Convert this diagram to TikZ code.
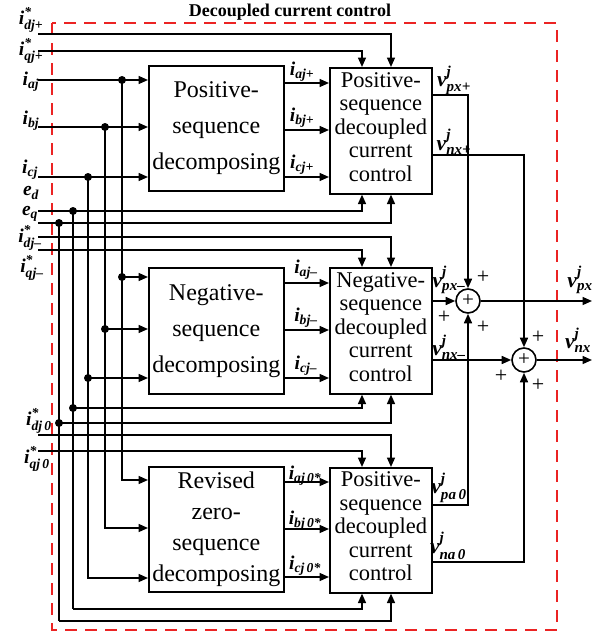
\documentclass[tikz,border=0pt]{standalone}
\usepackage{fontspec}
\usepackage{amsmath}
\setmainfont{Liberation Serif}
\usetikzlibrary{arrows.meta,calc}
\definecolor{rd}{RGB}{235,35,35}
\newcommand{\sgs}[3]{$\text{\bfseries\itshape #1}^{\text{\bfseries\itshape #2}}_{\text{\bfseries\itshape #3}}$}
\newcommand{\sgn}[2]{$\text{\bfseries\itshape #1}_{\text{\bfseries\itshape #2}}$}
\begin{document}
\begin{tikzpicture}[x=1pt,y=-1pt,
  wire/.style={line width=1.6pt},
  arr/.style={wire,-{Triangle[length=9.5pt,width=8pt]}},
  blk/.style={draw,line width=1.6pt,anchor=north west,inner sep=0pt,align=center},
  dec/.style={blk,minimum width=135pt,font=\fontsize{24}{36}\selectfont},
  ctl/.style={blk,minimum width=102pt},
  ctltxt/.style={inner sep=0pt,align=center,font=\fontsize{22.5}{23.5}\selectfont},
  jdot/.style={circle,fill,inner sep=0pt,minimum size=8pt},
  lbl/.style={inner sep=0pt,font=\fontsize{19.5}{19.5}\selectfont},
  vlbl/.style={inner sep=0pt,font=\fontsize{21.5}{21.5}\selectfont},
  pls/.style={inner sep=0pt,font=\fontsize{22}{22}\selectfont},
  sumnode/.style={circle,draw,line width=1.6pt,minimum size=24pt,inner sep=0pt,font=\fontsize{21}{21}\selectfont},
]
\useasboundingbox (0,0) rectangle (602,635);

% frame
\draw[rd,line width=1.8pt,dash pattern=on 12pt off 8pt] (52,23) rectangle (557,630);
\node[font=\bfseries\fontsize{18}{18}\selectfont,inner sep=0pt] (title) at (290,12) {Decoupled current control};

% blocks
\node[dec,minimum height=125pt] (pd) at (148,65) {Positive-\\sequence\\decomposing};
\node[dec,minimum height=126pt] (nd) at (148,267) {Negative-\\sequence\\decomposing};
\node[dec,minimum height=125pt,font=\fontsize{24}{31}\selectfont] (zd) at (148,466) {Revised\\zero-\\sequence\\decomposing};
\node[ctl,minimum height=126pt] (pc) at (329,67) {};
\node[ctl,minimum height=126pt] (nc) at (329,267) {};
\node[ctl,minimum height=125pt] (zc) at (329,467) {};
\node[ctltxt] (pct) at ([yshift=4pt]pc.center) {Positive-\\sequence\\decoupled\\current\\control};
\node[ctltxt] (nct) at ([yshift=4pt]nc.center) {Negative-\\sequence\\decoupled\\current\\control};
\node[ctltxt] (zct) at ([yshift=4pt]zc.center) {Positive-\\sequence\\decoupled\\current\\control};

% sums
\node[sumnode] (s1) at (468,301) {+};
\node[sumnode] (s2) at (524,360) {+};

% input starts
\coordinate (idp) at (38,34);
\coordinate (iqp) at (38,51);
\coordinate (ia) at (38,80);
\coordinate (ib) at (38,127);
\coordinate (ic) at (38,177);
\coordinate (ed) at (38,211);
\coordinate (eq) at (38,223);
\coordinate (idn) at (38,237);
\coordinate (iqn) at (38,250);
\coordinate (id0) at (38,435);
\coordinate (iq0) at (38,451);
\coordinate (cA) at (362,0);
\coordinate (cB) at (391,0);

% junctions
\node[jdot] (ja1) at (122,80) {};
\node[jdot] (ja2) at (122,277) {};
\coordinate (ja3) at (122,480);
\node[jdot] (jb1) at (105,127) {};
\node[jdot] (jb2) at (105,329) {};
\coordinate (jb3) at (105,528);
\node[jdot] (jc1) at (88,177) {};
\node[jdot] (jc2) at (88,378) {};
\coordinate (jc3) at (88,578);
\node[jdot] (jd1) at (73,211) {};
\node[jdot] (jd2) at (73,408) {};
\coordinate (jd3) at (73,609);
\node[jdot] (jq1) at (59,223) {};
\node[jdot] (jq2) at (59,423) {};
\coordinate (jq3) at (59,621);

% phase currents
\draw[arr] (ia) -- (ia -| pd.west);
\draw[arr] (ib) -- (ib -| pd.west);
\draw[arr] (ic) -- (ic -| pd.west);
\draw[arr] (ja1.center) -- (ja3) -- (ja3 -| zd.west);
\draw[arr] (jb1.center) -- (jb3) -- (jb3 -| zd.west);
\draw[arr] (jc1.center) -- (jc3) -- (jc3 -| zd.west);
\draw[arr] (ja2.center) -- (ja2 -| nd.west);
\draw[arr] (jb2.center) -- (jb2 -| nd.west);
\draw[arr] (jc2.center) -- (jc2 -| nd.west);

% voltages e
\draw[arr] (ed) -| (cA |- pc.south);
\draw[arr] (eq) -| (cB |- pc.south);
\draw[wire] (jd1.center) -- (jd3);
\draw[wire] (jq1.center) -- (jq3);
\draw[arr] (jd2.center) -| (cA |- nc.south);
\draw[arr] (jq2.center) -| (cB |- nc.south);
\draw[arr] (jd3) -| (cA |- zc.south);
\draw[arr] (jq3) -| (cB |- zc.south);

% references
\draw[arr] (idp) -| (cB |- pc.north);
\draw[arr] (iqp) -| (cA |- pc.north);
\draw[arr] (idn) -| (cB |- nc.north);
\draw[arr] (iqn) -| (cA |- nc.north);
\draw[arr] (id0) -| (cB |- zc.north);
\draw[arr] (iq0) -| (cA |- zc.north);

% decomposed currents
\draw[arr] (pd.east |- 0,83) -- (pc.west |- 0,83);
\draw[arr] (pd.east |- 0,130) -- (pc.west |- 0,130);
\draw[arr] (pd.east |- 0,177) -- (pc.west |- 0,177);
\draw[arr] (nd.east |- 0,283) -- (nc.west |- 0,283);
\draw[arr] (nd.east |- 0,330) -- (nc.west |- 0,330);
\draw[arr] (nd.east |- 0,378) -- (nc.west |- 0,378);
\draw[arr] (zd.east |- 0,482) -- (zc.west |- 0,482);
\draw[arr] (zd.east |- 0,529) -- (zc.west |- 0,529);
\draw[arr] (zd.east |- 0,577) -- (zc.west |- 0,577);

% outputs
\coordinate (o1) at (592,301);
\coordinate (o2) at (592,360);
\draw[arr] (pc.east |- 0,95) -| (s1.north);
\draw[arr] (pc.east |- 0,155) -| (s2.north);
\draw[arr] (nc.east |- s1) -- (s1.west);
\draw[arr] (nc.east |- s2) -- (s2.west);
\draw[arr] (zc.east |- 0,505) -| (s1.south);
\draw[arr] (zc.east |- 0,562) -| (s2.south);
\draw[arr] (s1.east) -- (o1);
\draw[arr] (s2.east) -- (o2);

% plus signs
\node[pls] (p11) at (483,277) {+};
\node[pls] (p12) at (444,317) {+};
\node[pls] (p13) at (483,327) {+};
\node[pls] (p21) at (538,337) {+};
\node[pls] (p22) at (501,376) {+};
\node[pls] (p23) at (538,385) {+};

% input labels
\node[lbl] (Lidp) at (31,20) {\sgs{i}{*}{dj+}};
\node[lbl] (Liqp) at (31,51) {\sgs{i}{*}{qj+}};
\node[lbl] (Lia) at (31,82) {\sgn{i}{aj}};
\node[lbl] (Lib) at (31,121) {\sgn{i}{bj}};
\node[lbl] (Lic) at (30,170) {\sgn{i}{cj}};
\node[lbl] (Led) at (31,193) {\sgn{e}{d}};
\node[lbl] (Leq) at (30,214) {\sgn{e}{q}};
\node[lbl] (Lidn) at (30,238) {\sgs{i}{*}{dj–}};
\node[lbl] (Liqn) at (32,268) {\sgs{i}{*}{qj–}};
\node[lbl] (Lid0) at (39,421) {\sgs{i}{*}{dj\,0}};
\node[lbl] (Liq0) at (37,459) {\sgs{i}{*}{qj\,0}};

% internal labels
\node[lbl] (La1) at (302,72) {\sgn{i}{aj+}};
\node[lbl] (Lb1) at (302,118) {\sgn{i}{bj+}};
\node[lbl] (Lc1) at (302,165) {\sgn{i}{cj+}};
\node[lbl] (La2) at (306,270) {\sgn{i}{aj–}};
\node[lbl] (Lb2) at (306,318) {\sgn{i}{bj–}};
\node[lbl] (Lc2) at (306,366) {\sgn{i}{cj–}};
\node[lbl] (La3) at (305,476) {\sgn{i}{aj\,0*}};
\node[lbl] (Lb3) at (305,521) {\sgn{i}{bj\,0*}};
\node[lbl] (Lc3) at (305,566) {\sgn{i}{cj\,0*}};

% output labels
\node[vlbl] (Lv1) at (454,80) {\sgs{v}{j}{px+}};
\node[vlbl] (Lv2) at (454,142) {\sgs{v}{j}{nx+}};
\node[vlbl] (Lv3) at (449,280) {\sgs{v}{j}{px–}};
\node[vlbl] (Lv4) at (449,347) {\sgs{v}{j}{nx–}};
\node[vlbl] (Lv5) at (449,488) {\sgs{v}{j}{pa\,0}};
\node[vlbl] (Lv6) at (448,546) {\sgs{v}{j}{na\,0}};
\node[vlbl] (Lvo1) at (580,280) {\sgs{v}{j}{px}};
\node[vlbl] (Lvo2) at (578,340) {\sgs{v}{j}{nx}};
\end{tikzpicture}
\end{document}
